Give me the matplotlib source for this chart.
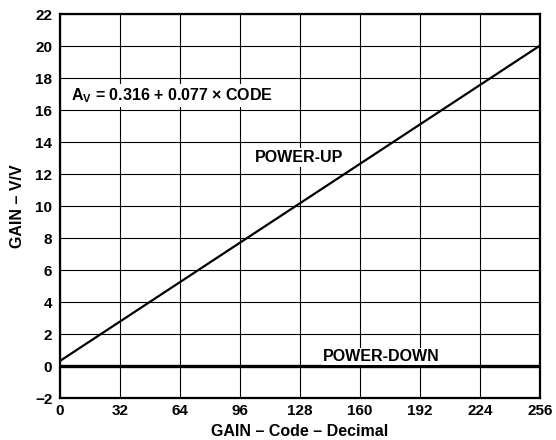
import matplotlib
matplotlib.use("Agg")
import matplotlib.pyplot as plt

# gain transfer data
codes = [0, 256]
gain_up = [0.316, 0.316 + 0.077 * 256]
gain_down = [0, 0]
xticks = [0, 32, 64, 96, 128, 160, 192, 224, 256]
yticks = list(range(-2, 23, 2))
ytick_labels = ["\u22122"] + [str(v) for v in yticks[1:]]

plt.rcParams['font.family'] = ['Liberation Sans', 'DejaVu Sans']
plt.rcParams['font.weight'] = 'bold'
plt.rcParams['mathtext.fontset'] = 'custom'
plt.rcParams['mathtext.rm'] = 'Liberation Sans:bold'
plt.rcParams['mathtext.bf'] = 'Liberation Sans:bold'

fig = plt.figure(figsize=(5.56, 4.4), dpi=100)
ax = fig.add_axes([60 / 556, 1 - 398 / 440, 480 / 556, 384 / 440])

ax.plot(codes, gain_up, color='black', lw=1.6, zorder=3)
ax.plot(codes, gain_down, color='black', lw=2.4, zorder=3)

ax.set_xlim(0, 256)
ax.set_ylim(-2, 22)
ax.set_xticks(xticks)
ax.set_yticks(yticks)
ax.set_yticklabels(ytick_labels)
ax.tick_params(length=0, labelsize=11)
ax.tick_params(axis='x', pad=4.5)
ax.tick_params(axis='y', pad=5.5)
ax.grid(True, color='black', lw=0.8)
for s in ax.spines.values():
    s.set_linewidth(1.6)
    s.set_zorder(5)

box = dict(facecolor='white', edgecolor='none', pad=1.5)
ax.text(5.9, 16.63, r"A$_\mathbf{V}$ = 0.316 + 0.077 $\times$ CODE", fontsize=11.5,
        fontweight='bold', va='baseline', ha='left', bbox=box, zorder=4)
ax.text(127.7, 12.73, "POWER-UP", fontsize=11.5, fontweight='bold',
        ha='center', va='baseline', bbox=box, zorder=4)
ax.text(171.2, 0.31, "POWER-DOWN", fontsize=11.5, fontweight='bold',
        ha='center', va='baseline', bbox=dict(facecolor='white', edgecolor='none', pad=0.5), zorder=4)

ax.set_xlabel("GAIN \u2013 Code \u2013 Decimal", fontsize=11.5, fontweight='bold', labelpad=4)
ax.set_ylabel("GAIN \u2013 V/V", fontsize=11.5, fontweight='bold', labelpad=7)

fig.savefig("out.png", dpi=100)
